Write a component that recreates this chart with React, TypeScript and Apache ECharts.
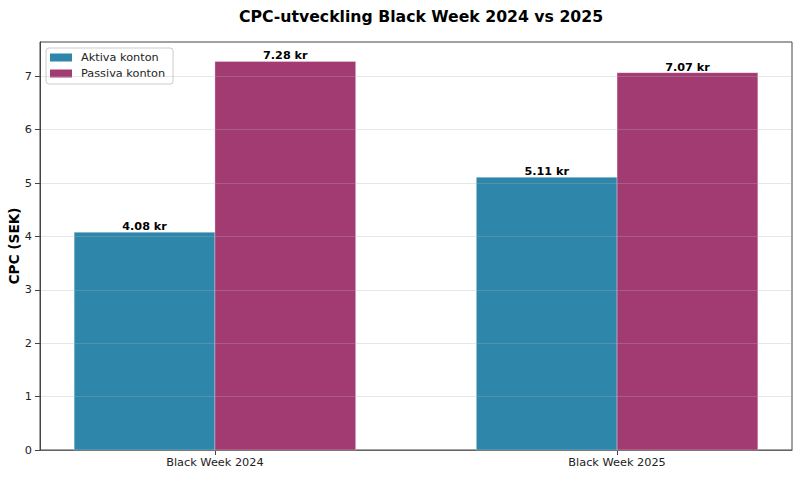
import React, { useEffect, useRef } from "react";
import * as echarts from "echarts";

// Categories and CPC values (SEK)
const categories = ["Black Week 2024", "Black Week 2025"];
const aktivaKonton = [4.08, 5.11];
const passivaKonton = [7.28, 7.07];
const yTickValues = [0, 1, 2, 3, 4, 5, 6, 7];

const BAR_W = 0.35;
const FONT = '"DejaVu Sans", "Noto Sans", sans-serif';
const BLUE = "#2E86AB";
const MAGENTA = "#A23B72";

const yMax = Math.max(...aktivaKonton, ...passivaKonton) * 1.05;

function makeRenderItem(offset: number, color: string) {
  return (params: any, api: any) => {
    const idx = api.value(0);
    const v = api.value(1);
    const [cx, top] = api.coord([idx + offset, v]);
    const [, base] = api.coord([idx + offset, 0]);
    const w = api.size([BAR_W, 0])[0];
    return {
      type: "group",
      children: [
        {
          type: "rect",
          shape: { x: cx - w / 2, y: top, width: w, height: base - top },
          style: { fill: color, stroke: "rgba(255,255,255,0.3)", lineWidth: 1 },
        },
        {
          type: "text",
          style: {
            text: v.toFixed(2) + " kr",
            x: cx,
            y: top,
            align: "center",
            verticalAlign: "bottom",
            fontFamily: FONT,
            fontWeight: "bold",
            fontSize: 11.2,
            fill: "#000",
          },
        },
      ],
    };
  };
}

export default function App() {
  const ref = useRef<HTMLDivElement>(null);

  useEffect(() => {
    if (!ref.current) return;
    const chart = echarts.init(ref.current, null, { renderer: "svg" });
    chart.setOption({
      animation: false,
      backgroundColor: "#fff",
      textStyle: { fontFamily: FONT },
      title: {
        text: "CPC-utveckling Black Week 2024 vs 2025",
        left: 416,
        textAlign: "center",
        top: 3,
        textStyle: { fontFamily: FONT, fontWeight: "bold", fontSize: 15.7, color: "#000" },
      },
      // y-axis title, rotated, centred on the plot height
      graphic: [
        {
          type: "text",
          x: 14,
          y: 246,
          rotation: Math.PI / 2,
          style: {
            text: "CPC (SEK)",
            align: "center",
            verticalAlign: "middle",
            fontFamily: FONT,
            fontWeight: "bold",
            fontSize: 13.7,
            fill: "#000",
          },
        },
      ],
      legend: {
        orient: "vertical",
        left: 46,
        top: 48,
        padding: [3, 8, 4, 4],
        itemGap: 3,
        itemWidth: 22,
        itemHeight: 8,
        icon: "rect",
        backgroundColor: "#fff",
        borderColor: "#cccccc",
        borderWidth: 1,
        borderRadius: 3,
        textStyle: { fontFamily: FONT, fontSize: 11.3, color: "#222", lineHeight: 13, padding: [0, 0, 0, 4] },
        data: ["Aktiva konton", "Passiva konton"],
      },
      grid: {
        left: 40,
        right: 8,
        top: 42,
        bottom: 27,
        outerBoundsMode: "none",
        containLabel: false,
        show: true,
        borderColor: "#444",
        borderWidth: 1,
        backgroundColor: "transparent",
      },
      xAxis: {
        type: "value",
        min: -0.435,
        max: 1.435,
        axisLine: { show: true, onZero: false, lineStyle: { color: "#444", width: 1 } },
        axisTick: {
          show: true,
          length: 5,
          customValues: [0, 1],
          lineStyle: { color: "#444" },
        },
        axisLabel: {
          customValues: [0, 1],
          formatter: (v: number) => categories[Math.round(v)] ?? "",
          fontFamily: FONT,
          fontSize: 11.3,
          color: "#222",
          margin: 7,
        },
        splitLine: { show: false },
      },
      yAxis: {
        type: "value",
        min: 0,
        max: yMax,
        interval: 1,
        z: 5,
        axisLine: { show: true, onZero: false, lineStyle: { color: "#444", width: 1 } },
        axisTick: { show: true, length: 5, customValues: yTickValues, lineStyle: { color: "#444" } },
        axisLabel: {
          customValues: yTickValues,
          fontFamily: FONT,
          fontSize: 11.3,
          color: "#222",
          margin: 8,
        },
        splitLine: { show: true, lineStyle: { color: "rgba(176,176,176,0.3)", width: 1 } },
      },
      series: [
        {
          name: "Aktiva konton",
          type: "custom",
          z: 2,
          itemStyle: { color: BLUE },
          renderItem: makeRenderItem(-BAR_W / 2, BLUE),
          data: aktivaKonton.map((v, i) => [i, v]),
        },
        {
          name: "Passiva konton",
          type: "custom",
          z: 2,
          itemStyle: { color: MAGENTA },
          renderItem: makeRenderItem(BAR_W / 2, MAGENTA),
          data: passivaKonton.map((v, i) => [i, v]),
        },
      ],
    });
    return () => chart.dispose();
  }, []);

  return (
    <div
      ref={ref}
      style={{ position: "absolute", left: 0, top: 0, width: 800, height: 477 }}
    />
  );
}
